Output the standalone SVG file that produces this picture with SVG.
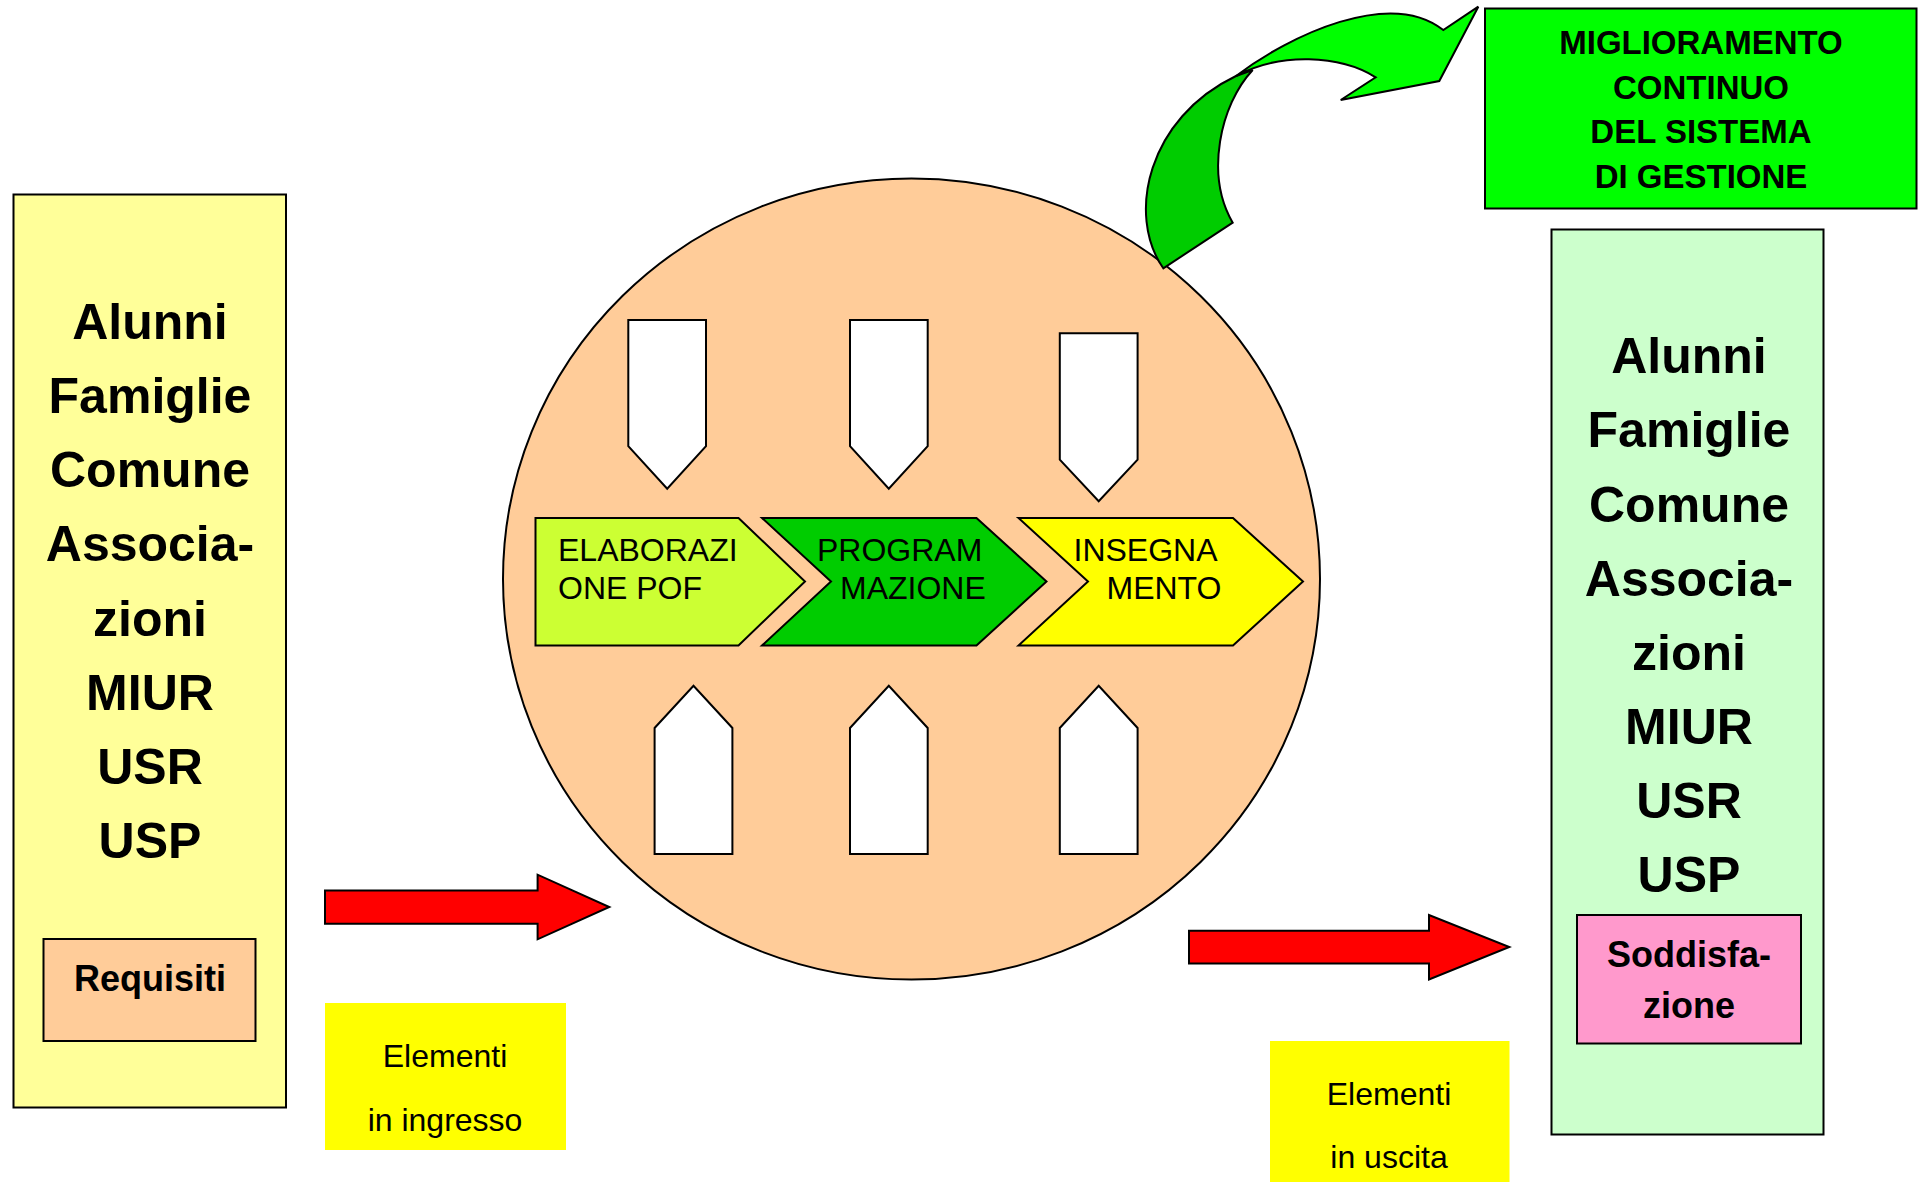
<svg xmlns="http://www.w3.org/2000/svg" width="1922" height="1182" viewBox="0 0 1922 1182">
<style>
.ol{stroke:#000;stroke-width:2;stroke-linejoin:miter}
.big{font-family:"Liberation Sans",Arial,sans-serif;font-weight:bold;font-size:50px;text-anchor:middle;fill:#000}
.mid{font-family:"Liberation Sans",Arial,sans-serif;font-weight:bold;font-size:36px;text-anchor:middle;fill:#000}
.top{font-family:"Liberation Sans",Arial,sans-serif;font-weight:bold;font-size:33px;text-anchor:middle;fill:#000}
.el{font-family:"Liberation Sans",Arial,sans-serif;font-size:32px;text-anchor:middle;fill:#000}
.chv{font-family:"Liberation Sans",Arial,sans-serif;font-size:32px;fill:#000}
.wh{fill:#fff}
</style>
<rect width="1922" height="1182" fill="#fff"/>

<g id="stakeholders-in">
<rect class="ol" x="13.5" y="194.5" width="272.5" height="913" fill="#FFFF99"/>
<text class="big" x="150" y="339">Alunni</text>
<text class="big" x="150" y="413">Famiglie</text>
<text class="big" x="150" y="487">Comune</text>
<text class="big" x="150" y="561">Associa-</text>
<text class="big" x="150" y="636">zioni</text>
<text class="big" x="150" y="710">MIUR</text>
<text class="big" x="150" y="784">USR</text>
<text class="big" x="150" y="858">USP</text>
</g>
<g id="requisiti">
<rect class="ol" x="43.5" y="939" width="212" height="102" fill="#FFCC99"/>
<text class="mid" x="150" y="991">Requisiti</text>
</g>
<g id="elementi-ingresso">
<rect x="325" y="1003" width="241" height="147" fill="#FFFF00"/>
<text class="el" x="445" y="1067">Elementi</text>
<text class="el" x="445" y="1131">in ingresso</text>
</g>

<g id="processo">
<ellipse class="ol" cx="911.5" cy="579" rx="408.5" ry="400.5" fill="#FFCC99"/>
</g>
<g id="input-arrows">
<polygon class="ol wh" points="628.3,320 706,320 706,446.2 667.2,488.7 628.3,446.2"/>
<polygon class="ol wh" points="850,320 927.7,320 927.7,446.2 888.8,488.7 850,446.2"/>
<polygon class="ol wh" points="1059.8,333.3 1137.6,333.3 1137.6,459.6 1098.7,501.3 1059.8,459.6"/>
<polygon class="ol wh" points="654.6,854 654.6,728 693.5,685.7 732.4,728 732.4,854"/>
<polygon class="ol wh" points="850,854 850,728 888.8,685.7 927.7,728 927.7,854"/>
<polygon class="ol wh" points="1059.8,854 1059.8,728 1098.7,685.7 1137.6,728 1137.6,854"/>
</g>
<g id="elaborazione-pof">
<polygon class="ol" points="535.5,518 738.5,518 805,581.5 738.5,645.5 535.5,645.5" fill="#CCFF33"/>
<text class="chv" x="558" y="561">ELABORAZI</text>
<text class="chv" x="558" y="599">ONE POF</text>
</g>
<g id="programmazione">
<polygon class="ol" points="762,518 976.5,518 1046.5,581.5 976.5,645.5 762,645.5 831,581.5" fill="#00CC00"/>
<text class="chv" x="817" y="561">PROGRAM</text>
<text class="chv" x="840" y="599">MAZIONE</text>
</g>
<g id="insegnamento">
<polygon class="ol" points="1018.5,518 1233,518 1303,581.5 1233,645.5 1018.5,645.5 1088,581.5" fill="#FFFF00"/>
<text class="chv" x="1073.5" y="561">INSEGNA</text>
<text class="chv" x="1106.5" y="599">MENTO</text>
</g>

<g id="miglioramento">
<rect class="ol" x="1485" y="8.5" width="431.5" height="200" fill="#00FF00"/>
<text class="top" x="1701" y="54">MIGLIORAMENTO</text>
<text class="top" x="1701" y="99">CONTINUO</text>
<text class="top" x="1701" y="143">DEL SISTEMA</text>
<text class="top" x="1701" y="188">DI GESTIONE</text>
</g>

<g id="stakeholders-out">
<rect class="ol" x="1551.5" y="229.5" width="272" height="905" fill="#CCFFCC"/>
<text class="big" x="1689" y="373">Alunni</text>
<text class="big" x="1689" y="447">Famiglie</text>
<text class="big" x="1689" y="522">Comune</text>
<text class="big" x="1689" y="596">Associa-</text>
<text class="big" x="1689" y="670">zioni</text>
<text class="big" x="1689" y="744">MIUR</text>
<text class="big" x="1689" y="818">USR</text>
<text class="big" x="1689" y="892">USP</text>
</g>
<g id="soddisfazione">
<rect class="ol" x="1577" y="915" width="224" height="128.5" fill="#FF99CC"/>
<text class="mid" x="1689" y="967">Soddisfa-</text>
<text class="mid" x="1689" y="1018">zione</text>
</g>
<g id="elementi-uscita">
<rect x="1270" y="1041" width="239.5" height="141" fill="#FFFF00"/>
<text class="el" x="1389" y="1105">Elementi</text>
<text class="el" x="1389" y="1168">in uscita</text>
</g>

<g id="connectors">
<polygon class="ol" points="325,890.6 537.6,890.6 537.6,874.7 609.3,907 537.6,939.3 537.6,923.7 325,923.7" fill="#FF0000"/>
<polygon class="ol" points="1189,930.7 1429,930.7 1429,915 1509.3,947 1429,979.4 1429,963.4 1189,963.4" fill="#FF0000"/>
<path class="ol" fill="#00CC00" d="M1163.3,268.3 C1126,215 1148,118 1236,76 L1252.7,70 C1220,105 1205,175 1232.7,222.7 Z"/>
<path class="ol" fill="#00FF00" d="M1236,76 C1290,35 1390,-12 1443.3,30 L1478.3,6.7 L1439.3,81 L1340.7,100 L1375.7,77.3 C1340,55 1280,52 1236,76 Z"/>
</g>
</svg>
